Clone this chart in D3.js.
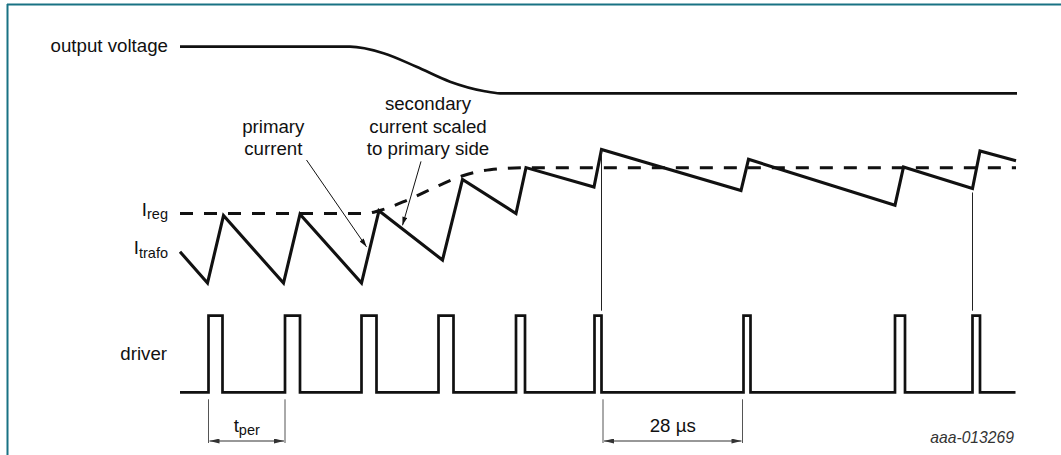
<!DOCTYPE html>
<html>
<head>
<meta charset="utf-8">
<script src="https://cdn.jsdelivr.net/npm/d3@7"></script>
<style>
  html, body { margin: 0; padding: 0; background: #fff; }
  svg { display: block; font-family: "Liberation Sans", Arial, sans-serif; }
</style>
</head>
<body>
<svg id="chart" width="1061" height="455"></svg>
<script>
// ---- data (time in µs, levels in relative units) ----
const voltageT = [0, 34, 40.7, 47.3, 54, 60.7, 64, 167.4];
const voltageV = [1, 1, 0.86, 0.57, 0.25, 0.05, 0, 0];

const currentT = [0, 5.5, 8.7, 20.7, 24, 36.3, 39.8, 52.5, 56.5, 67.2, 69.2, 82.8, 84.3, 112.2, 113.7, 143, 144.7, 158.5, 160, 167.2];
const currentI = [0.45, 0, 0.97, 0, 0.99, 0, 1.04, 0.33, 1.49, 1.0, 1.66, 1.38, 1.92, 1.33, 1.78, 1.12, 1.67, 1.36, 1.90, 1.76];

const secondaryT = [0, 37, 39.8, 45.4, 52, 56.4, 62, 69.4, 167.2];
const secondaryI = [1.0, 1.0, 1.04, 1.19, 1.41, 1.54, 1.63, 1.66, 1.66];

const pulseOn  = [5.7, 21, 36.3, 51.7, 67.2, 82.9, 112.7, 143, 158.5];
const pulseOff = [8.5, 24, 39.3, 54.7, 69, 84.3, 114.1, 145, 160];
const driverEnd = 167.1;

const markerT = [84.3, 158.5];
const markerI = [1.92, 1.36];

const dimFrom = [5.7, 84.6];
const dimTo   = [21, 112.5];
const dimLabel = ["t", "28 µs"];
const dimSub   = ["per", ""];

const leaderFromT = [25.3, 48.2];
const leaderFromI = [1.77, 1.75];
const leaderToT   = [37.3, 44.5];
const leaderToI   = [0.52, 0.83];

// ---- scales ----
const x  = d3.scaleLinear().domain([0, 168]).range([180, 1020]);
const yV = d3.scaleLinear().domain([0, 1]).range([93.3, 46.7]);
const yI = d3.scaleLinear().domain([0, 1]).range([283, 213.5]);
const yD = d3.scaleLinear().domain([0, 1]).range([392.3, 315.7]);

const svg = d3.select("#chart");
const ink = "#111";
const FS = 18.7, SUB = 14.5;

// frame
svg.append("line").attr("x1", 7).attr("x2", 1061).attr("y1", 4.5).attr("y2", 4.5)
  .attr("stroke", "#197284").attr("stroke-width", 2);
svg.append("line").attr("x1", 7.5).attr("x2", 7.5).attr("y1", 4).attr("y2", 455)
  .attr("stroke", "#197284").attr("stroke-width", 2);

const defs = svg.append("defs");
defs.append("marker").attr("id", "ah").attr("viewBox", "0 0 10 6")
  .attr("refX", 10).attr("refY", 3).attr("markerWidth", 10).attr("markerHeight", 5)
  .attr("markerUnits", "userSpaceOnUse").attr("orient", "auto")
  .append("path").attr("d", "M0,0 L10,3 L0,6 Z").attr("fill", ink);
defs.append("marker").attr("id", "dh").attr("viewBox", "0 0 12 6")
  .attr("refX", 12).attr("refY", 3).attr("markerWidth", 12).attr("markerHeight", 5)
  .attr("markerUnits", "userSpaceOnUse").attr("orient", "auto-start-reverse")
  .append("path").attr("d", "M0,0 L12,3 L0,6 Z").attr("fill", "#333");

// output voltage
const vLine = d3.line().x(d => x(d[0])).y(d => yV(d[1])).curve(d3.curveMonotoneX);
svg.append("path").attr("d", vLine(voltageT.map((t, i) => [t, voltageV[i]])))
  .attr("fill", "none").attr("stroke", ink).attr("stroke-width", 2.7);

// secondary current (dashed)
const sLine = d3.line().x(d => x(d[0])).y(d => yI(d[1])).curve(d3.curveMonotoneX);
svg.append("path").attr("d", sLine(secondaryT.map((t, i) => [t, secondaryI[i]])))
  .attr("fill", "none").attr("stroke", ink).attr("stroke-width", 3)
  .attr("stroke-dasharray", "13,11");

// primary current (sawtooth)
const cLine = d3.line().x(d => x(d[0])).y(d => yI(d[1]));
svg.append("path").attr("d", cLine(currentT.map((t, i) => [t, currentI[i]])))
  .attr("fill", "none").attr("stroke", ink).attr("stroke-width", 3.1)
  .attr("stroke-linejoin", "miter").attr("stroke-miterlimit", 10);

// driver pulses
const dPts = [[0, 0]];
pulseOn.forEach((t, i) => { dPts.push([t, 0], [t, 1], [pulseOff[i], 1], [pulseOff[i], 0]); });
dPts.push([driverEnd, 0]);
svg.append("path").attr("d", d3.line().x(d => x(d[0])).y(d => yD(d[1]))(dPts))
  .attr("fill", "none").attr("stroke", ink).attr("stroke-width", 2.7)
  .attr("stroke-linejoin", "miter");

// vertical markers
markerT.forEach((t, i) => {
  svg.append("line").attr("x1", x(t)).attr("x2", x(t))
    .attr("y1", yI(markerI[i]) + (i === 0 ? 0 : 4)).attr("y2", yD(1) - 5)
    .attr("stroke", "#222").attr("stroke-width", 1);
});

// leaders
leaderFromT.forEach((t, i) => {
  svg.append("line").attr("x1", x(t)).attr("y1", yI(leaderFromI[i]))
    .attr("x2", x(leaderToT[i])).attr("y2", yI(leaderToI[i]))
    .attr("stroke", ink).attr("stroke-width", 1).attr("marker-end", "url(#ah)");
});

// dimension lines
const dimTop = yD(0) + 7, dimBot = 443, dimY = 441;
dimFrom.forEach((t0, i) => {
  const t1 = dimTo[i];
  [t0, t1].forEach(t => svg.append("line").attr("x1", x(t)).attr("x2", x(t))
    .attr("y1", dimTop).attr("y2", dimBot).attr("stroke", "#555").attr("stroke-width", 1));
  svg.append("line").attr("x1", x(t0) + 1).attr("x2", x(t1) - 1)
    .attr("y1", dimY).attr("y2", dimY).attr("stroke", "#333").attr("stroke-width", 1.2)
    .attr("marker-start", "url(#dh)").attr("marker-end", "url(#dh)");
  const tx = svg.append("text").attr("x", (x(t0) + x(t1)) / 2).attr("y", 431.5)
    .attr("text-anchor", "middle").attr("font-size", FS).attr("fill", ink);
  tx.append("tspan").text(dimLabel[i]);
  if (dimSub[i]) tx.append("tspan").attr("font-size", SUB).attr("dy", 3.5).text(dimSub[i]);
});

// labels
function label(xp, yp, anchor, parts) {
  const t = svg.append("text").attr("x", xp).attr("y", yp).attr("text-anchor", anchor)
    .attr("font-size", FS).attr("fill", ink);
  parts.forEach(p => {
    const s = t.append("tspan").text(p.t);
    if (p.sub) s.attr("font-size", SUB).attr("dy", p.dy);
  });
  return t;
}
label(168, 52.3, "end", [{t: "output voltage"}]);
label(168, 215.5, "end", [{t: "I"}, {t: "reg", sub: true, dy: 3.5}]);
label(168, 254, "end", [{t: "I"}, {t: "trafo", sub: true, dy: 3.5}]);
label(167, 360, "end", [{t: "driver"}]);

label(273.3, 133, "middle", [{t: "primary"}]);
label(273.3, 155, "middle", [{t: "current"}]);

label(428, 110, "middle", [{t: "secondary"}]);
label(428, 132.5, "middle", [{t: "current scaled"}]);
label(428, 154.5, "middle", [{t: "to primary side"}]);

svg.append("text").attr("x", 1014).attr("y", 443.3).attr("text-anchor", "end")
  .attr("font-size", 15.7).attr("font-style", "italic").attr("fill", "#333")
  .text("aaa-013269");
</script>
</body>
</html>
